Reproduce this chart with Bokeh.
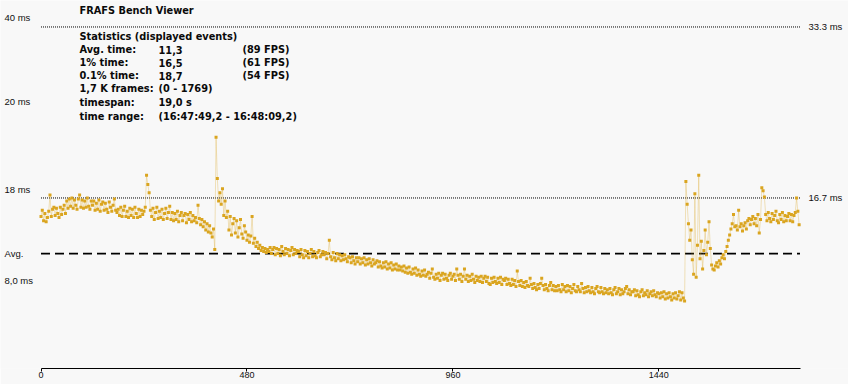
from bokeh.plotting import figure
from bokeh.models import Range1d, Label, FixedTicker
from bokeh.embed import file_html
from bokeh.resources import INLINE

# ---------------- data ----------------
FRAME_STEP = 3
frame_ms = [
    # frames 0-57
    14.9, 15.5, 14.5, 15.2, 14.4, 14.8, 15.4, 17.0, 14.9, 15.6, 15.8, 15.0, 15.7, 15.2, 14.8, 15.8, 15.1, 15.6, 16.0, 15.2,
    # 60-117
    16.4, 15.7, 16.6, 15.9, 16.7, 15.7, 16.5, 16.0, 15.6, 16.6, 17.0, 15.8, 16.5, 15.7, 16.4, 15.8, 16.7, 15.9, 15.6, 16.4,
    # 120-177
    16.0, 16.4, 15.5, 16.2, 15.6, 16.5, 15.4, 16.1, 16.3, 15.5, 16.2, 15.6, 15.3, 16.3, 15.8, 15.4, 16.0, 16.6, 15.5, 15.3,
    # 180-237
    15.6, 15.0, 15.8, 14.9, 15.5, 15.9, 14.9, 15.4, 14.8, 15.7, 15.0, 15.6, 14.8, 15.8, 15.2, 14.8, 15.6, 14.9, 15.5, 15.1,
    # 240-297
    15.4, 15.8, 18.9, 18.0, 17.2, 15.5, 14.9, 15.7, 14.6, 15.3, 15.8, 14.7, 15.4, 14.8, 15.6, 14.6, 15.2, 15.7, 14.7, 15.3,
    # 300-357
    15.9, 14.6, 15.3, 14.5, 15.2, 14.6, 15.4, 14.4, 15.0, 15.3, 14.5, 15.0, 15.2, 14.3, 15.1, 14.6, 15.3, 14.4, 15.0, 14.5,
    # 360-417
    14.8, 14.3, 16.0, 14.7, 14.1, 14.6, 13.9, 14.4, 13.6, 14.2, 13.4, 14.0, 13.3, 12.9, 13.7, 11.7, 22.6, 18.6, 16.4, 17.2,
    # 420-477
    16.1, 17.6, 15.0, 16.4, 14.8, 15.4, 13.6, 14.9, 13.1, 14.2, 14.7, 13.3, 14.5, 12.9, 13.8, 14.6, 13.2, 12.8, 14.0, 13.4,
    # 480-537
    12.6, 13.1, 12.4, 13.0, 14.9, 12.3, 12.8, 12.0, 12.4, 11.8, 12.1, 11.6, 11.9, 11.5, 11.8, 11.4, 11.7, 11.5, 11.9, 11.3,
    # 540-597
    11.7, 11.9, 11.2, 11.8, 11.3, 11.7, 11.1, 12.0, 11.5, 11.2, 11.8, 11.3, 11.7, 11.1, 11.6, 11.9, 11.2, 11.7, 11.3, 11.6,
    # 600-657
    11.5, 11.0, 11.7, 11.2, 10.9, 11.6, 11.1, 11.5, 10.9, 11.3, 11.7, 11.0, 11.5, 11.1, 10.9, 11.4, 11.6, 11.0, 11.2, 11.5,
    # 660-717
    11.2, 11.4, 10.8, 11.3, 12.6, 11.0, 10.7, 11.4, 10.9, 10.6, 11.3, 10.8, 11.2, 10.6, 11.1, 10.7, 11.2, 10.8, 10.5, 11.0,
    # 720-777
    10.9, 10.4, 11.0, 10.6, 10.3, 10.9, 10.5, 10.9, 10.3, 10.8, 10.4, 10.9, 10.2, 10.7, 10.3, 10.8, 10.4, 10.1, 10.7, 10.3,
    # 780-837
    10.4, 10.6, 10.0, 10.5, 10.1, 9.9, 10.4, 10.0, 10.5, 9.8, 10.3, 9.9, 10.4, 9.7, 10.2, 9.8, 10.3, 9.7, 10.1, 9.7,
    # 840-897
    10.0, 9.6, 10.1, 9.5, 9.9, 9.4, 10.0, 9.5, 9.3, 9.8, 9.4, 9.9, 9.2, 9.7, 9.3, 9.1, 9.6, 9.2, 9.7, 9.1,
    # 900-957
    9.3, 9.5, 8.9, 9.4, 9.8, 9.0, 8.8, 9.3, 8.9, 9.4, 8.7, 9.2, 9.4, 8.8, 9.3, 8.9, 8.7, 9.2, 9.4, 8.8,
    # 960-1017
    9.1, 9.3, 8.7, 9.8, 9.2, 8.8, 9.3, 8.6, 9.1, 9.8, 8.8, 9.2, 8.6, 9.1, 8.7, 9.3, 8.8, 8.5, 9.1, 8.7,
    # 1020-1077
    9.0, 8.6, 9.1, 8.5, 8.9, 9.1, 8.6, 9.0, 8.4, 8.3, 8.9, 8.5, 9.0, 8.6, 8.4, 8.9, 8.5, 9.0, 8.3, 8.8,
    # 1080-1137
    8.7, 8.9, 8.3, 8.8, 8.4, 8.2, 8.8, 8.3, 8.7, 8.1, 9.6, 8.6, 8.2, 8.7, 8.1, 8.5, 8.0, 8.6, 8.2, 8.1,
    # 1140-1197
    8.9, 8.3, 7.9, 8.4, 8.0, 7.8, 8.3, 7.9, 8.4, 8.9, 8.2, 7.8, 8.3, 7.9, 7.7, 8.2, 8.5, 7.8, 8.2, 7.7,
    # 1200-1257
    8.1, 7.7, 8.2, 7.8, 7.6, 8.3, 7.8, 8.1, 7.6, 8.2, 7.7, 8.1, 7.5, 7.9, 8.3, 7.7, 7.6, 8.1, 7.8, 7.6,
    # 1260-1317
    8.4, 7.9, 7.5, 8.0, 7.6, 8.1, 7.7, 7.5, 8.0, 7.6, 7.4, 7.9, 8.1, 7.6, 7.5, 8.0, 7.6, 7.4, 7.9, 7.5,
    # 1320-1377
    7.8, 7.4, 7.9, 7.5, 7.3, 7.8, 8.0, 7.4, 7.6, 7.9, 7.3, 7.8, 7.4, 7.6, 7.9, 8.1, 7.4, 7.8, 7.3, 7.6,
    # 1380-1437
    7.6, 7.8, 7.2, 7.7, 7.3, 7.1, 7.6, 7.8, 7.2, 7.5, 7.3, 7.7, 7.1, 7.4, 7.6, 7.2, 7.7, 7.3, 7.1, 7.5,
    # 1440-1497
    7.4, 7.0, 7.5, 7.1, 7.6, 6.9, 7.4, 7.0, 7.5, 7.1, 6.8, 7.4, 7.0, 7.5, 6.9, 7.2, 7.6, 6.8, 7.5, 7.0,
    # 1500-1557
    6.7, 18.3, 16.1, 14.2, 12.6, 13.6, 10.7, 9.3, 17.1, 9.0, 12.1, 18.9, 10.8, 12.5, 9.8, 11.6, 13.6, 11.2, 12.4, 14.4,
    # 1560-1617
    11.8, 10.2, 9.8, 9.7, 10.1, 10.4, 10.0, 10.6, 10.3, 10.9, 11.2, 10.8, 11.5, 12.0, 12.6, 13.1, 13.7, 14.2, 15.1, 13.9,
    # 1620-1677
    14.0, 13.6, 15.5, 13.9, 14.2, 13.5, 14.0, 14.3, 13.7, 14.5, 14.7, 14.1, 14.6, 14.9, 14.2, 14.7, 14.0, 15.1, 13.3, 14.6,
    # 1680-1737
    17.7, 17.4, 16.8, 15.1, 14.5, 15.3, 14.7, 14.4, 15.2, 14.6, 15.0, 15.4, 14.5, 14.3, 15.1, 14.6, 15.3, 14.4, 15.0, 14.5,
    # 1740-1767
    14.9, 15.2, 14.5, 15.1, 14.4, 15.0, 15.3, 16.7, 15.4, 14.1,
]
frames = [i * FRAME_STEP for i in range(len(frame_ms))]
first_frame, last_frame = 0, 1769

avg_ms = 11.3
ref_line_ms = [33.3, 16.7]
ref_line_labels = ["33.3 ms", "16.7 ms"]

y_label_texts = ["40 ms", "20 ms", "18 ms", "Avg.", "8,0 ms"]
x_ticks = [0, 480, 960, 1440]

title_text = "FRAFS Bench Viewer"
stats_heading = "Statistics (displayed events)"
stat_names = ["Avg. time:", "1% time:", "0.1% time:", "1,7 K frames:", "timespan:", "time range:"]
stat_values = ["11,3", "16,5", "18,7", "(0 - 1769)", "19,0 s", "(16:47:49,2 - 16:48:09,2)"]
stat_fps = ["(89 FPS)", "(61 FPS)", "(54 FPS)", "", "", ""]

# ---------------- layout ----------------
W, H = 848, 384
BG = "#F8F8F8"
GOLD = "#DAA520"
FONT = "Liberation Sans"
BOLD_FONT = "DejaVu Sans"
INK = "#101010"

# x: frame 0 near 41 px, frame 1769 near 800 px (frame spans whole width)
kx = 759.0 / (last_frame - first_frame)
x0 = first_frame - 40.5 / kx
x1 = x0 + W / kx
# y: frame height 368 px
FRAME_H = 368
y0, y1 = 0.1456, 35.871

p = figure(width=W, height=H, output_backend="svg", toolbar_location=None,
           x_range=Range1d(x0, x1), y_range=Range1d(y0, y1),
           min_border_left=0, min_border_right=0, min_border_top=0,
           min_border_bottom=H - FRAME_H)
p.background_fill_color = BG
p.border_fill_color = BG
p.outline_line_color = None
p.grid.visible = False
p.yaxis.visible = False

xa = p.xaxis[0]
xa.ticker = FixedTicker(ticks=x_ticks)
xa.bounds = (first_frame, last_frame)
xa.axis_line_color = "#000000"
xa.major_tick_line_color = "#000000"
xa.major_tick_out = 3
xa.major_tick_in = 0
xa.minor_tick_line_color = None
xa.major_label_standoff = 0
xa.major_label_text_font = FONT
xa.major_label_text_font_size = "9px"
xa.major_label_text_color = INK

# reference lines (30 / 60 FPS) and average
for v in ref_line_ms:
    p.line([first_frame, last_frame], [v, v], line_color="#000000", line_width=1, line_dash="1 1")
p.line([first_frame, last_frame], [avg_ms, avg_ms], line_color="#000000", line_width=1.8, line_dash="9 5")

# data
p.line(frames, frame_ms, line_color=GOLD, line_alpha=0.3, line_width=1)
p.scatter(frames, frame_ms, marker="square", size=3, fill_color=GOLD, line_color=None)

# right labels for reference lines
for v, t in zip(ref_line_ms, ref_line_labels):
    p.add_layout(Label(x=808, x_units="screen", y=v, text=t, text_font=FONT,
                       text_font_size="9.5px", text_color=INK, text_baseline="middle"))

# left labels
y_label_pos = [34.2, 26.1, 17.5, avg_ms, 8.7]
for v, t in zip(y_label_pos, y_label_texts):
    p.add_layout(Label(x=4, x_units="screen", y=v, text=t, text_font=FONT,
                       text_font_size="9.5px", text_color=INK, text_baseline="middle"))

# statistics block (screen units measured from the frame's bottom-left)
def stat_label(x, top_y, t):
    p.add_layout(Label(x=x, y=FRAME_H - top_y, x_units="screen", y_units="screen", text=t,
                       text_font=BOLD_FONT, text_font_size="9.8px", text_font_style="bold",
                       text_color="#0a0a0a", text_baseline="middle"))

stat_label(79, 10, title_text)
stat_label(79, 36, stats_heading)
row_y = [49, 62, 75, 88, 102, 116]
for y, n, v, f in zip(row_y, stat_names, stat_values, stat_fps):
    stat_label(79, y, n)
    stat_label(158, y, v)
    if f:
        stat_label(242, y, f)

open("out.html", "w").write(file_html(p, INLINE))
